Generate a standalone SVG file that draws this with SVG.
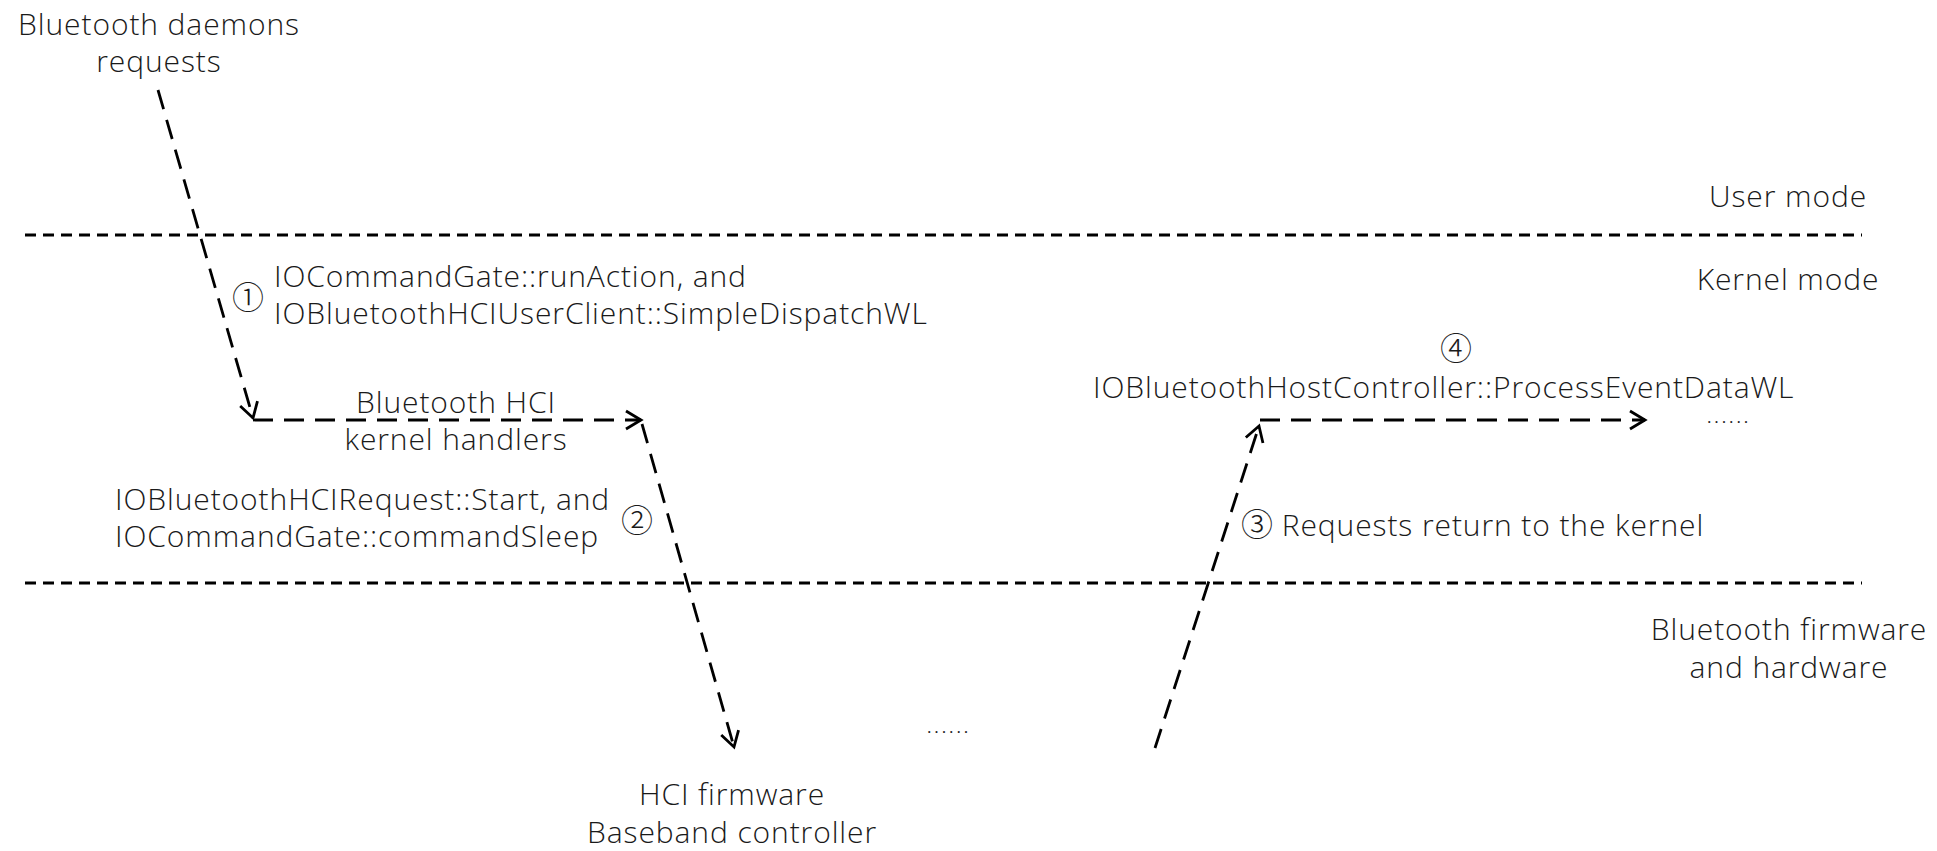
<svg xmlns="http://www.w3.org/2000/svg" width="1937" height="851" viewBox="0 0 1937 851">
<style>
  text { font-family: "Segoe UI", "Open Sans", "Noto Sans", sans-serif; font-weight: 300; font-size: 30px; letter-spacing: 0.9px; fill: #1a1a1a; }
  .mid { text-anchor: middle; }
  .num { font-family: "Noto Sans CJK SC", "DejaVu Sans", sans-serif; font-weight: 300; font-size: 32px; letter-spacing: 0; }
  .sep { stroke: #000; stroke-width: 2.8; stroke-dasharray: 11 7; fill: none; }
  .flow { stroke: #000; stroke-width: 2.8; stroke-dasharray: 20 11; fill: none; }
  .dots { font-size: 17px; font-weight: 400; letter-spacing: 2.9px; }
</style>
<defs>
  <marker id="ah" markerUnits="userSpaceOnUse" markerWidth="40" markerHeight="40" viewBox="-20 -20 40 40" refX="0" refY="0" orient="auto" overflow="visible">
    <path d="M-15,-9 L0,0 L-15,9" fill="none" stroke="#000" stroke-width="2.8"/>
  </marker>
</defs>
<rect width="1937" height="851" fill="#fff"/>

<g id="separators">
  <line class="sep" x1="25" y1="235" x2="1862" y2="235"/>
  <line class="sep" x1="25" y1="583" x2="1862" y2="583"/>
</g>

<g id="zone-labels">
  <text class="mid" x="1788" y="207">User mode</text>
  <text class="mid" x="1788" y="290">Kernel mode</text>
  <text class="mid" x="1789" y="640">Bluetooth firmware</text>
  <text class="mid" x="1789" y="678">and hardware</text>
</g>

<g id="connectors">
  <line class="flow" x1="158" y1="90" x2="253" y2="418" marker-end="url(#ah)"/>
  <line class="flow" x1="253" y1="420" x2="641" y2="420" marker-end="url(#ah)"/>
  <line class="flow" x1="642" y1="424" x2="734" y2="747" marker-end="url(#ah)"/>
  <line class="flow" x1="1155" y1="748" x2="1259" y2="426" marker-end="url(#ah)"/>
  <line class="flow" x1="1260" y1="420" x2="1645" y2="420" marker-end="url(#ah)"/>
</g>

<g id="node-daemons">
  <text class="mid" x="159" y="35">Bluetooth daemons</text>
  <text class="mid" x="159" y="72">requests</text>
</g>

<g id="label-step1">
  <text class="mid num" x="248" y="309">①</text>
  <text x="274" y="287">IOCommandGate::runAction, and</text>
  <text x="274" y="324">IOBluetoothHCIUserClient::SimpleDispatchWL</text>
</g>

<g id="node-hci-handlers">
  <text class="mid" x="456" y="413">Bluetooth HCI</text>
  <text class="mid" x="456" y="450">kernel handlers</text>
</g>

<g id="label-step2">
  <text x="115" y="510">IOBluetoothHCIRequest::Start, and</text>
  <text x="115" y="547">IOCommandGate::commandSleep</text>
  <text class="mid num" x="637" y="532">②</text>
</g>

<g id="node-hci-firmware">
  <text class="mid" x="732" y="805">HCI firmware</text>
  <text class="mid" x="732" y="843">Baseband controller</text>
</g>

<g id="node-middle-dots">
  <text class="dots" x="927" y="733">......</text>
</g>

<g id="label-step3">
  <text x="1241" y="536"><tspan class="num">③</tspan> Requests return to the kernel</text>
</g>

<g id="node-process-event">
  <text class="mid num" x="1456" y="360">④</text>
  <text x="1093" y="398">IOBluetoothHostController::ProcessEventDataWL</text>
</g>

<g id="node-right-dots">
  <text class="dots" x="1707" y="423">......</text>
</g>
</svg>
